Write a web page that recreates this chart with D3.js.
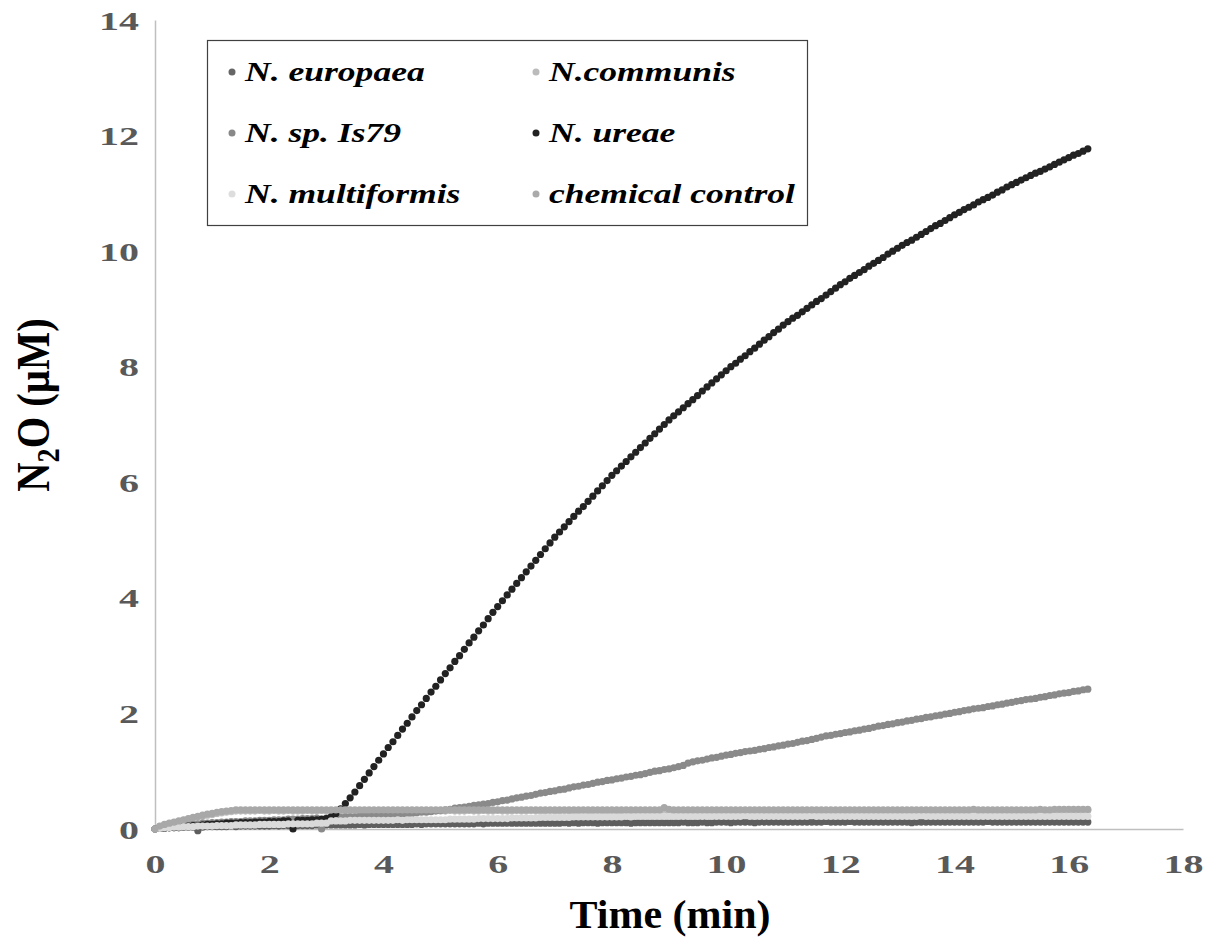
<!DOCTYPE html>
<html>
<head>
<meta charset="utf-8">
<script src="https://cdn.jsdelivr.net/npm/d3@7"></script>
<style>
  body { margin: 0; background: #ffffff; }
  svg { display: block; }
</style>
</head>
<body>
<svg id="chart" width="1208" height="941"></svg>
<script>
// Sampling times of the N2O electrode, in seconds (one reading every 5 s)
const timeSec = [
  0,5,10,15,20,25,30,35,40,45,50,55,
  60,65,70,75,80,85,90,95,100,105,110,115,
  120,125,130,135,140,145,150,155,160,165,170,175,
  180,185,190,195,200,205,210,215,220,225,230,235,
  240,245,250,255,260,265,270,275,280,285,290,295,
  300,305,310,315,320,325,330,335,340,345,350,355,
  360,365,370,375,380,385,390,395,400,405,410,415,
  420,425,430,435,440,445,450,455,460,465,470,475,
  480,485,490,495,500,505,510,515,520,525,530,535,
  540,545,550,555,560,565,570,575,580,585,590,595,
  600,605,610,615,620,625,630,635,640,645,650,655,
  660,665,670,675,680,685,690,695,700,705,710,715,
  720,725,730,735,740,745,750,755,760,765,770,775,
  780,785,790,795,800,805,810,815,820,825,830,835,
  840,845,850,855,860,865,870,875,880,885,890,895,
  900,905,910,915,920,925,930,935,940,945,950,955,
  960,965,970,975,980
];

// N2O concentration (µM) for each strain
const europaea = [
  0.00,0.01,0.01,0.02,0.02,0.02,0.03,0.03,0.03,-0.03,0.03,0.04,
  0.04,0.04,0.04,0.04,0.05,0.04,0.05,0.05,0.05,0.05,0.05,0.05,
  0.05,0.06,0.05,0.06,0.06,0.06,0.06,0.06,0.06,0.06,0.07,0.06,
  0.07,0.07,0.07,0.07,0.07,0.07,0.07,0.08,0.07,0.08,0.08,0.08,
  0.08,0.08,0.08,0.08,0.08,0.08,0.08,0.09,0.08,0.09,0.09,0.09,
  0.09,0.09,0.09,0.09,0.09,0.09,0.09,0.09,0.10,0.09,0.10,0.10,
  0.10,0.10,0.10,0.10,0.10,0.10,0.10,0.10,0.10,0.10,0.10,0.10,
  0.10,0.10,0.11,0.10,0.11,0.10,0.11,0.11,0.11,0.10,0.11,0.11,
  0.11,0.11,0.11,0.11,0.10,0.11,0.11,0.11,0.11,0.11,0.11,0.11,
  0.11,0.11,0.11,0.12,0.11,0.11,0.11,0.12,0.11,0.11,0.12,0.12,
  0.12,0.11,0.12,0.12,0.12,0.12,0.11,0.12,0.12,0.12,0.12,0.12,
  0.12,0.12,0.12,0.12,0.12,0.12,0.12,0.12,0.12,0.13,0.12,0.12,
  0.12,0.12,0.13,0.12,0.12,0.12,0.12,0.12,0.12,0.12,0.12,0.12,
  0.12,0.12,0.12,0.11,0.12,0.12,0.12,0.12,0.12,0.12,0.12,0.12,
  0.12,0.12,0.12,0.12,0.12,0.12,0.12,0.13,0.12,0.12,0.12,0.12,
  0.12,0.12,0.12,0.12,0.12,0.12,0.12,0.12,0.12,0.12,0.12,0.12,
  0.12,0.12,0.12,0.12,0.12
];

const communis = [
  0.00,0.04,0.07,0.09,0.11,0.13,0.15,0.17,0.19,0.21,0.22,0.24,
  0.25,0.27,0.28,0.29,0.30,0.31,0.31,0.31,0.31,0.31,0.32,0.31,
  0.31,0.32,0.31,0.31,0.32,0.31,0.31,0.31,0.32,0.31,0.31,0.32,
  0.31,0.31,0.32,0.31,0.31,0.31,0.32,0.31,0.31,0.32,0.31,0.31,
  0.32,0.31,0.31,0.31,0.32,0.31,0.31,0.32,0.31,0.31,0.31,0.32,
  0.31,0.31,0.32,0.31,0.31,0.31,0.32,0.31,0.31,0.32,0.31,0.31,
  0.32,0.31,0.31,0.31,0.32,0.31,0.31,0.32,0.31,0.31,0.31,0.32,
  0.31,0.31,0.32,0.31,0.31,0.31,0.32,0.31,0.31,0.32,0.31,0.31,
  0.32,0.31,0.31,0.31,0.32,0.31,0.31,0.32,0.31,0.31,0.31,0.32,
  0.31,0.31,0.32,0.31,0.31,0.31,0.32,0.31,0.31,0.32,0.31,0.31,
  0.32,0.31,0.31,0.31,0.32,0.31,0.31,0.32,0.31,0.31,0.31,0.32,
  0.31,0.31,0.32,0.31,0.31,0.31,0.32,0.31,0.31,0.32,0.31,0.31,
  0.32,0.31,0.31,0.31,0.32,0.31,0.31,0.32,0.31,0.31,0.31,0.32,
  0.31,0.31,0.32,0.31,0.31,0.31,0.32,0.31,0.31,0.32,0.31,0.31,
  0.32,0.31,0.31,0.31,0.32,0.31,0.31,0.32,0.31,0.31,0.31,0.32,
  0.31,0.31,0.32,0.31,0.31,0.31,0.32,0.31,0.31,0.32,0.31,0.31,
  0.32,0.31,0.31,0.32,0.32
];

const is79 = [
  0.00,0.02,0.03,0.04,0.05,0.06,0.07,0.08,0.08,0.09,0.10,0.10,
  0.11,0.11,0.12,0.12,0.13,0.13,0.13,0.14,0.14,0.14,0.15,0.15,
  0.15,0.16,0.16,0.16,0.17,0.17,0.17,0.18,0.18,0.18,0.19,0.00,
  0.19,0.20,0.20,0.20,0.21,0.21,0.21,0.22,0.22,0.22,0.23,0.23,
  0.24,0.25,0.25,0.26,0.26,0.27,0.27,0.28,0.29,0.29,0.30,0.31,
  0.32,0.33,0.34,0.36,0.37,0.38,0.39,0.41,0.42,0.43,0.44,0.46,
  0.47,0.49,0.50,0.52,0.54,0.55,0.57,0.58,0.60,0.62,0.63,0.65,
  0.66,0.68,0.69,0.71,0.73,0.74,0.76,0.77,0.79,0.81,0.82,0.84,
  0.85,0.87,0.88,0.90,0.91,0.93,0.94,0.96,0.98,1.00,1.01,1.03,
  1.04,1.06,1.08,1.10,1.14,1.16,1.18,1.19,1.21,1.23,1.24,1.26,
  1.28,1.29,1.31,1.32,1.34,1.35,1.36,1.38,1.39,1.41,1.42,1.44,
  1.45,1.47,1.48,1.50,1.52,1.53,1.55,1.57,1.59,1.61,1.62,1.64,
  1.65,1.67,1.68,1.70,1.71,1.73,1.74,1.76,1.78,1.79,1.81,1.82,
  1.84,1.85,1.87,1.88,1.90,1.91,1.93,1.94,1.96,1.97,1.99,2.00,
  2.02,2.03,2.05,2.06,2.08,2.09,2.10,2.12,2.13,2.15,2.16,2.18,
  2.19,2.21,2.22,2.24,2.25,2.26,2.28,2.29,2.31,2.32,2.34,2.35,
  2.36,2.38,2.39,2.41,2.42
];

const ureae = [
  0.00,0.01,0.02,0.02,0.03,0.04,0.04,0.05,0.06,0.06,0.07,0.08,
  0.08,0.09,0.09,0.10,0.10,0.10,0.11,0.11,0.11,0.12,0.12,0.12,
  0.13,0.13,0.13,0.14,0.14,0.00,0.15,0.15,0.15,0.16,0.16,0.17,
  0.18,0.21,0.27,0.35,0.44,0.54,0.64,0.75,0.86,0.97,1.08,1.19,
  1.30,1.41,1.51,1.62,1.73,1.83,1.94,2.05,2.15,2.26,2.37,2.47,
  2.58,2.69,2.79,2.90,3.00,3.11,3.22,3.32,3.43,3.53,3.64,3.75,
  3.85,3.95,4.05,4.15,4.25,4.35,4.45,4.55,4.65,4.75,4.85,4.95,
  5.05,5.14,5.23,5.32,5.41,5.50,5.58,5.67,5.76,5.85,5.94,6.03,
  6.12,6.20,6.28,6.36,6.44,6.52,6.60,6.68,6.76,6.84,6.92,7.00,
  7.08,7.15,7.22,7.29,7.36,7.43,7.50,7.58,7.65,7.72,7.79,7.86,
  7.93,8.00,8.06,8.13,8.19,8.26,8.32,8.39,8.46,8.52,8.59,8.65,
  8.72,8.78,8.84,8.89,8.95,9.01,9.07,9.13,9.18,9.24,9.30,9.36,
  9.42,9.47,9.53,9.58,9.63,9.68,9.74,9.79,9.84,9.89,9.95,10.00,
  10.05,10.10,10.15,10.19,10.24,10.29,10.34,10.39,10.44,10.48,10.53,10.58,
  10.63,10.67,10.72,10.76,10.80,10.85,10.89,10.93,10.97,11.02,11.06,11.11,
  11.15,11.19,11.23,11.27,11.31,11.35,11.38,11.42,11.46,11.50,11.54,11.58,
  11.62,11.66,11.69,11.73,11.77
];

const multiformis = [
  0.00,0.01,0.02,0.02,0.03,0.03,0.04,0.04,0.04,0.05,0.05,0.05,
  0.05,0.06,0.06,0.06,0.06,0.07,0.07,0.07,0.07,0.07,0.08,0.08,
  0.08,0.08,0.08,0.08,0.09,0.09,0.09,0.09,0.09,0.09,0.10,0.10,
  0.10,0.14,0.14,0.14,0.14,0.15,0.15,0.15,0.15,0.15,0.15,0.15,
  0.15,0.15,0.15,0.16,0.15,0.16,0.16,0.16,0.16,0.16,0.16,0.16,
  0.16,0.16,0.17,0.17,0.17,0.17,0.17,0.17,0.18,0.18,0.18,0.18,
  0.18,0.18,0.18,0.19,0.19,0.19,0.19,0.19,0.19,0.20,0.20,0.20,
  0.20,0.20,0.20,0.20,0.21,0.21,0.21,0.21,0.21,0.21,0.21,0.21,
  0.21,0.21,0.21,0.22,0.21,0.22,0.22,0.22,0.22,0.22,0.22,0.22,
  0.22,0.22,0.22,0.22,0.22,0.22,0.22,0.22,0.22,0.22,0.22,0.22,
  0.22,0.22,0.22,0.22,0.23,0.22,0.22,0.22,0.22,0.22,0.22,0.22,
  0.22,0.22,0.22,0.22,0.22,0.22,0.23,0.22,0.22,0.22,0.22,0.22,
  0.22,0.22,0.22,0.22,0.22,0.22,0.22,0.22,0.22,0.22,0.22,0.22,
  0.22,0.22,0.22,0.22,0.22,0.23,0.22,0.22,0.22,0.22,0.22,0.22,
  0.22,0.22,0.22,0.22,0.22,0.22,0.22,0.22,0.22,0.22,0.22,0.22,
  0.22,0.22,0.22,0.22,0.22,0.22,0.22,0.22,0.22,0.22,0.22,0.22,
  0.22,0.22,0.22,0.22,0.22
];

const chemicalControl = [
  0.00,0.05,0.08,0.10,0.12,0.14,0.16,0.18,0.20,0.22,0.24,0.26,
  0.27,0.29,0.30,0.31,0.32,0.33,0.33,0.33,0.33,0.33,0.33,0.33,
  0.33,0.33,0.33,0.33,0.33,0.33,0.33,0.33,0.33,0.33,0.33,0.33,
  0.33,0.33,0.33,0.33,0.33,0.33,0.33,0.33,0.33,0.33,0.33,0.33,
  0.33,0.33,0.33,0.33,0.33,0.33,0.33,0.33,0.33,0.33,0.33,0.33,
  0.33,0.33,0.33,0.33,0.33,0.33,0.33,0.33,0.33,0.33,0.33,0.33,
  0.33,0.33,0.33,0.33,0.33,0.33,0.33,0.33,0.33,0.33,0.33,0.33,
  0.33,0.33,0.33,0.33,0.33,0.33,0.33,0.33,0.33,0.33,0.33,0.33,
  0.33,0.33,0.33,0.33,0.33,0.33,0.33,0.33,0.33,0.33,0.33,0.37,
  0.34,0.33,0.33,0.33,0.33,0.33,0.33,0.33,0.33,0.33,0.33,0.33,
  0.33,0.33,0.33,0.33,0.33,0.33,0.33,0.33,0.33,0.33,0.33,0.33,
  0.33,0.33,0.33,0.33,0.33,0.33,0.33,0.33,0.33,0.33,0.33,0.33,
  0.33,0.33,0.33,0.33,0.33,0.33,0.33,0.33,0.33,0.33,0.33,0.33,
  0.33,0.33,0.33,0.33,0.33,0.33,0.33,0.33,0.33,0.33,0.33,0.33,
  0.33,0.33,0.33,0.33,0.34,0.33,0.33,0.33,0.33,0.33,0.33,0.33,
  0.33,0.33,0.33,0.33,0.33,0.33,0.34,0.33,0.33,0.34,0.34,0.34,
  0.34,0.34,0.34,0.34,0.34
];

const seriesNames  = ["N. europaea", "N.communis", "N. sp. Is79", "N. ureae", "N. multiformis", "chemical control"];
const seriesValues = [europaea, communis, is79, ureae, multiformis, chemicalControl];
const seriesColors = ["#5e5e5e", "#bdbdbd", "#8a8a8a", "#222222", "#dadada", "#a8a8a8"];
const legendColors = ["#666666", "#bbbbbb", "#888888", "#222222", "#dddddd", "#aaaaaa"];

const xTicks = [0, 2, 4, 6, 8, 10, 12, 14, 16, 18];
const yTicks = [0, 2, 4, 6, 8, 10, 12, 14];

const svg = d3.select("#chart");
const serif = "'Liberation Serif', 'Times New Roman', serif";

const x = d3.scaleLinear().domain([0, 18]).range([155, 1183]);
const y = d3.scaleLinear().domain([0, 14]).range([829, 20]);

// axes: light grey lines without tick marks, wide bold grey numerals
const tickScaleX = 1.6;
const gx = svg.append("g")
  .attr("transform", `translate(0,${y(0)})`)
  .call(d3.axisBottom(x).tickValues(xTicks).tickSize(0).tickPadding(0).tickFormat(d3.format("d")));
const gy = svg.append("g")
  .attr("transform", `translate(${x(0)},0)`)
  .call(d3.axisLeft(y).tickValues(yTicks).tickSize(0).tickPadding(0).tickFormat(d3.format("d")));

[gx, gy].forEach(g => {
  g.select(".domain").attr("stroke", "#bfbfbf").attr("stroke-width", 1.5);
  g.selectAll("text")
    .attr("font-family", serif)
    .attr("font-weight", "bold")
    .attr("font-size", 25)
    .attr("fill", "#595959");
});
gx.selectAll("text").attr("dy", null).attr("y", 0)
  .attr("transform", `translate(0,44) scale(${tickScaleX},1)`);
gy.selectAll("text").attr("dy", null).attr("x", 0)
  .attr("transform", `translate(-16,9) scale(${tickScaleX},1)`);

// data points, drawn series by series so later series sit on top
const plot = svg.append("g");
seriesValues.forEach((vals, s) => {
  plot.append("g")
    .attr("fill", seriesColors[s])
    .selectAll("circle")
    .data(timeSec.map((t, i) => ({ t: t / 60, v: vals[i] })))
    .join("circle")
    .attr("cx", d => x(d.t))
    .attr("cy", d => y(d.v))
    .attr("r", 3.6);
});

// axis titles
svg.append("text")
  .attr("transform", `translate(670,928) scale(1.05,1)`)
  .attr("text-anchor", "middle")
  .attr("font-family", serif)
  .attr("font-weight", "bold")
  .attr("font-size", 40)
  .attr("fill", "#000")
  .text("Time (min)");

const yTitle = svg.append("text")
  .attr("transform", `translate(49,405) rotate(-90) scale(0.88,1)`)
  .attr("text-anchor", "middle")
  .attr("font-family", serif)
  .attr("font-weight", "bold")
  .attr("font-size", 46)
  .attr("fill", "#000");
yTitle.append("tspan").text("N");
yTitle.append("tspan").attr("dy", 10).attr("font-size", 32).text("2");
yTitle.append("tspan").attr("dy", -10).text("O (µM)");

// legend
const legend = svg.append("g");
legend.append("rect")
  .attr("x", 207.5).attr("y", 40.5)
  .attr("width", 600).attr("height", 185)
  .attr("fill", "#fff")
  .attr("stroke", "#404040")
  .attr("stroke-width", 1.2);

const legendCols = [232, 536];
const legendRows = [72, 133, 194];
seriesNames.forEach((name, i) => {
  const cx = legendCols[i % 2];
  const cy = legendRows[Math.floor(i / 2)];
  legend.append("circle")
    .attr("cx", cx).attr("cy", cy).attr("r", 3.5)
    .attr("fill", legendColors[i]);
  legend.append("text")
    .attr("transform", `translate(${cx + 13},${cy + 9}) scale(1.27,1)`)
    .attr("font-family", serif)
    .attr("font-weight", "bold")
    .attr("font-style", "italic")
    .attr("font-size", 28)
    .attr("fill", "#000")
    .text(name);
});
</script>
</body>
</html>
